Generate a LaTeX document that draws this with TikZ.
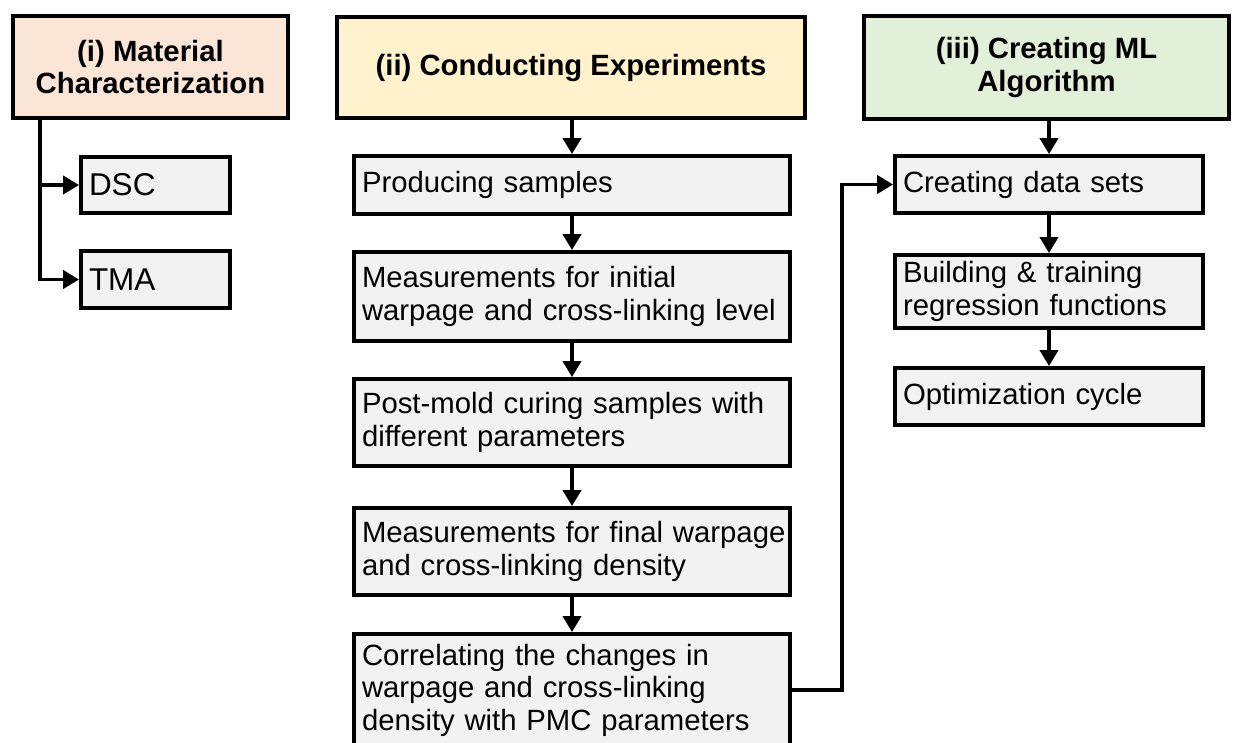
\documentclass[tikz,border=0pt]{standalone}
\usepackage{fontspec}
\setmainfont{Liberation Sans}
\usetikzlibrary{arrows.meta,calc}

\definecolor{peach}{HTML}{FBE5D6}
\definecolor{cream}{HTML}{FFF2CC}
\definecolor{sage}{HTML}{E2F0D9}
\definecolor{boxgray}{HTML}{F2F2F2}

\tikzset{
  headbox/.style={draw=black, line width=3.8pt, inner sep=0pt, align=center,
    font=\fontsize{29.3}{32.5}\selectfont\bfseries},
  procbox/.style={draw=black, line width=3.8pt, fill=boxgray, inner xsep=8pt,
    inner ysep=0pt, align=left, font=\fontsize{29.3}{32.5}\selectfont},
  smallbox/.style={procbox, font=\fontsize{31.5}{34}\selectfont},
  link/.style={line width=3.8pt, -{Triangle[length=16pt,width=18pt]}}
}

\begin{document}
\begin{tikzpicture}[x=1pt,y=-1pt]
\useasboundingbox (0,0) rectangle (1233,742);
\clip (0,0) rectangle (1233,742);

% column headers
\node[headbox, fill=peach, minimum width=275pt, minimum height=102pt]
  (h1) at (150.5,67) {(i) Material\\Characterization};
\node[headbox, fill=cream, minimum width=468pt, minimum height=101pt]
  (h2) at (571,67.5) {(ii) Conducting Experiments};
\node[headbox, fill=sage, minimum width=365pt, minimum height=103pt]
  (h3) at (1046.5,67.5) {(iii) Creating ML\\Algorithm};

% material characterization
\node[smallbox, text width=133pt, minimum height=56pt] (dsc) at (155.5,185) {DSC};
\node[smallbox, text width=133pt, minimum height=57pt] (tma) at (155.5,279.5) {TMA};

% experiments
\node[procbox, text width=420pt, minimum height=58pt] (prod) at (572,185)
  {Producing samples};
\node[procbox, text width=420pt, minimum height=89pt] (minit) at (572,296.5)
  {\mbox{Measurements for initial}\\\mbox{warpage and cross-linking level}};
\node[procbox, text width=420pt, minimum height=87pt] (post) at (572,422.5)
  {\mbox{Post-mold curing samples with}\\\mbox{different parameters}};
\node[procbox, text width=420pt, minimum height=87pt] (mfin) at (572,551.5)
  {\mbox{Measurements for final warpage}\\\mbox{and cross-linking density}};
\node[procbox, text width=420pt, minimum height=112pt] (corr) at (572,690)
  {\mbox{Correlating the changes in}\\\mbox{warpage and cross-linking}\\\mbox{density with PMC parameters}};

% machine learning
\node[procbox, text width=292pt, minimum height=57pt] (data) at (1049,184.5)
  {Creating data sets};
\node[procbox, text width=292pt, minimum height=73pt] (build) at (1049,291.5)
  {\mbox{Building \& training}\\\mbox{regression functions}};
\node[procbox, text width=292pt, minimum height=57pt] (opt) at (1049,396.5)
  {Optimization cycle};

% connectors
\coordinate (t1) at ($(h1.south west)+(29,0)$);
\draw[link] (t1) |- (tma.west);
\draw[link] (t1 |- dsc.west) -- (dsc.west);

\draw[link] (prod.north |- h2.south) -- (prod.north);
\draw[link] (prod) -- (minit);
\draw[link] (minit) -- (post);
\draw[link] (post) -- (mfin);
\draw[link] (mfin) -- (corr);

\coordinate (bend) at ($(corr.east)+(50,0)$);
\draw[link] (corr.east) -- (bend) |- (data.west);

\draw[link] (data.north |- h3.south) -- (data.north);
\draw[link] (data) -- (build);
\draw[link] (build) -- (opt);
\end{tikzpicture}
\end{document}
